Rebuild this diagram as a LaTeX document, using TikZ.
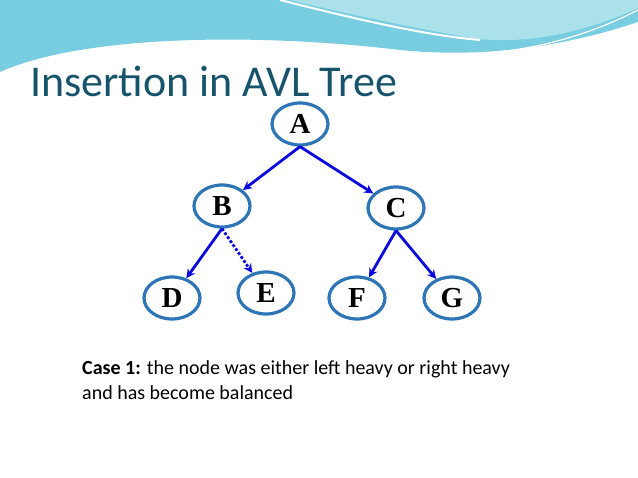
\documentclass[tikz,border=0pt]{standalone}
\usepackage{fontspec}
\setmainfont{Carlito}
\newfontfamily\letterfont{Liberation Serif}
\usetikzlibrary{arrows.meta,shapes.geometric}
\definecolor{titleteal}{RGB}{23,84,107}
\definecolor{ringblue}{RGB}{46,117,182}
\definecolor{edgeblue}{RGB}{10,10,220}
\definecolor{wavecyan}{RGB}{120,205,225}
\definecolor{wavelight}{RGB}{170,225,235}
\tikzset{
  avlnode/.style={ellipse, draw=ringblue, line width=3.2pt, fill=white,
    minimum width=56pt, minimum height=42pt, inner sep=0pt,
    font=\letterfont\bfseries\fontsize{29}{29}\selectfont},
  child/.style={-{Stealth[length=9pt,width=9pt]}, edgeblue, line width=2.8pt},
  newchild/.style={child, dotted}
}
\begin{document}
\begin{tikzpicture}[x=1pt,y=-1pt]
    \useasboundingbox (0,0) rectangle (638,478);
    \fill[white] (0,0) rectangle (638,478);

    % header wave
    \fill[wavecyan] (0,0) -- (638,0) -- (638,22) .. controls (560,48) and (480,58) .. (400,50)
        .. controls (250,32) and (80,36) .. (0,72) -- cycle;
    \fill[wavelight] (290,0) -- (638,0) -- (638,8) .. controls (580,35) and (520,45) .. (470,38)
        .. controls (400,25) and (330,10) .. (290,0) -- cycle;
    \draw[white, line width=2pt] (280,0) .. controls (340,15) and (420,35) .. (480,40);
    \draw[white, line width=1.2pt] (0,75) .. controls (100,38) and (260,35) .. (400,52)
        .. controls (480,60) and (560,50) .. (638,10);

    % title
    \node[anchor=base west, text=titleteal, font=\fontsize{44}{44}\selectfont, inner sep=0pt]
        (title) at (30,97) {Insertion in AVL Tree};

    % tree nodes
    \node[avlnode] (A) at (300,124) {A};
    \node[avlnode] (B) at (222,206) {B};
    \node[avlnode] (C) at (396,208) {C};
    \node[avlnode] (D) at (172,298) {D};
    \node[avlnode] (E) at (266,293) {E};
    \node[avlnode] (F) at (357,298) {F};
    \node[avlnode] (G) at (452,298) {G};

    % edges
    \draw[child] (A.south) -- (B);
    \draw[child] (A.south) -- (C);
    \draw[child] (B.south) -- (D);
    \draw[newchild] (B.south) -- (E);
    \draw[child] (C.south) -- (F);
    \draw[child] (C.south) -- (G);

    % caption
    \node[anchor=north west, align=left, font=\fontsize{20}{25}\selectfont, inner sep=0pt]
        (caption) at (82,360) {\textbf{Case 1:} the node was either left heavy or right heavy\\
        and has become balanced};
\end{tikzpicture}
\end{document}
